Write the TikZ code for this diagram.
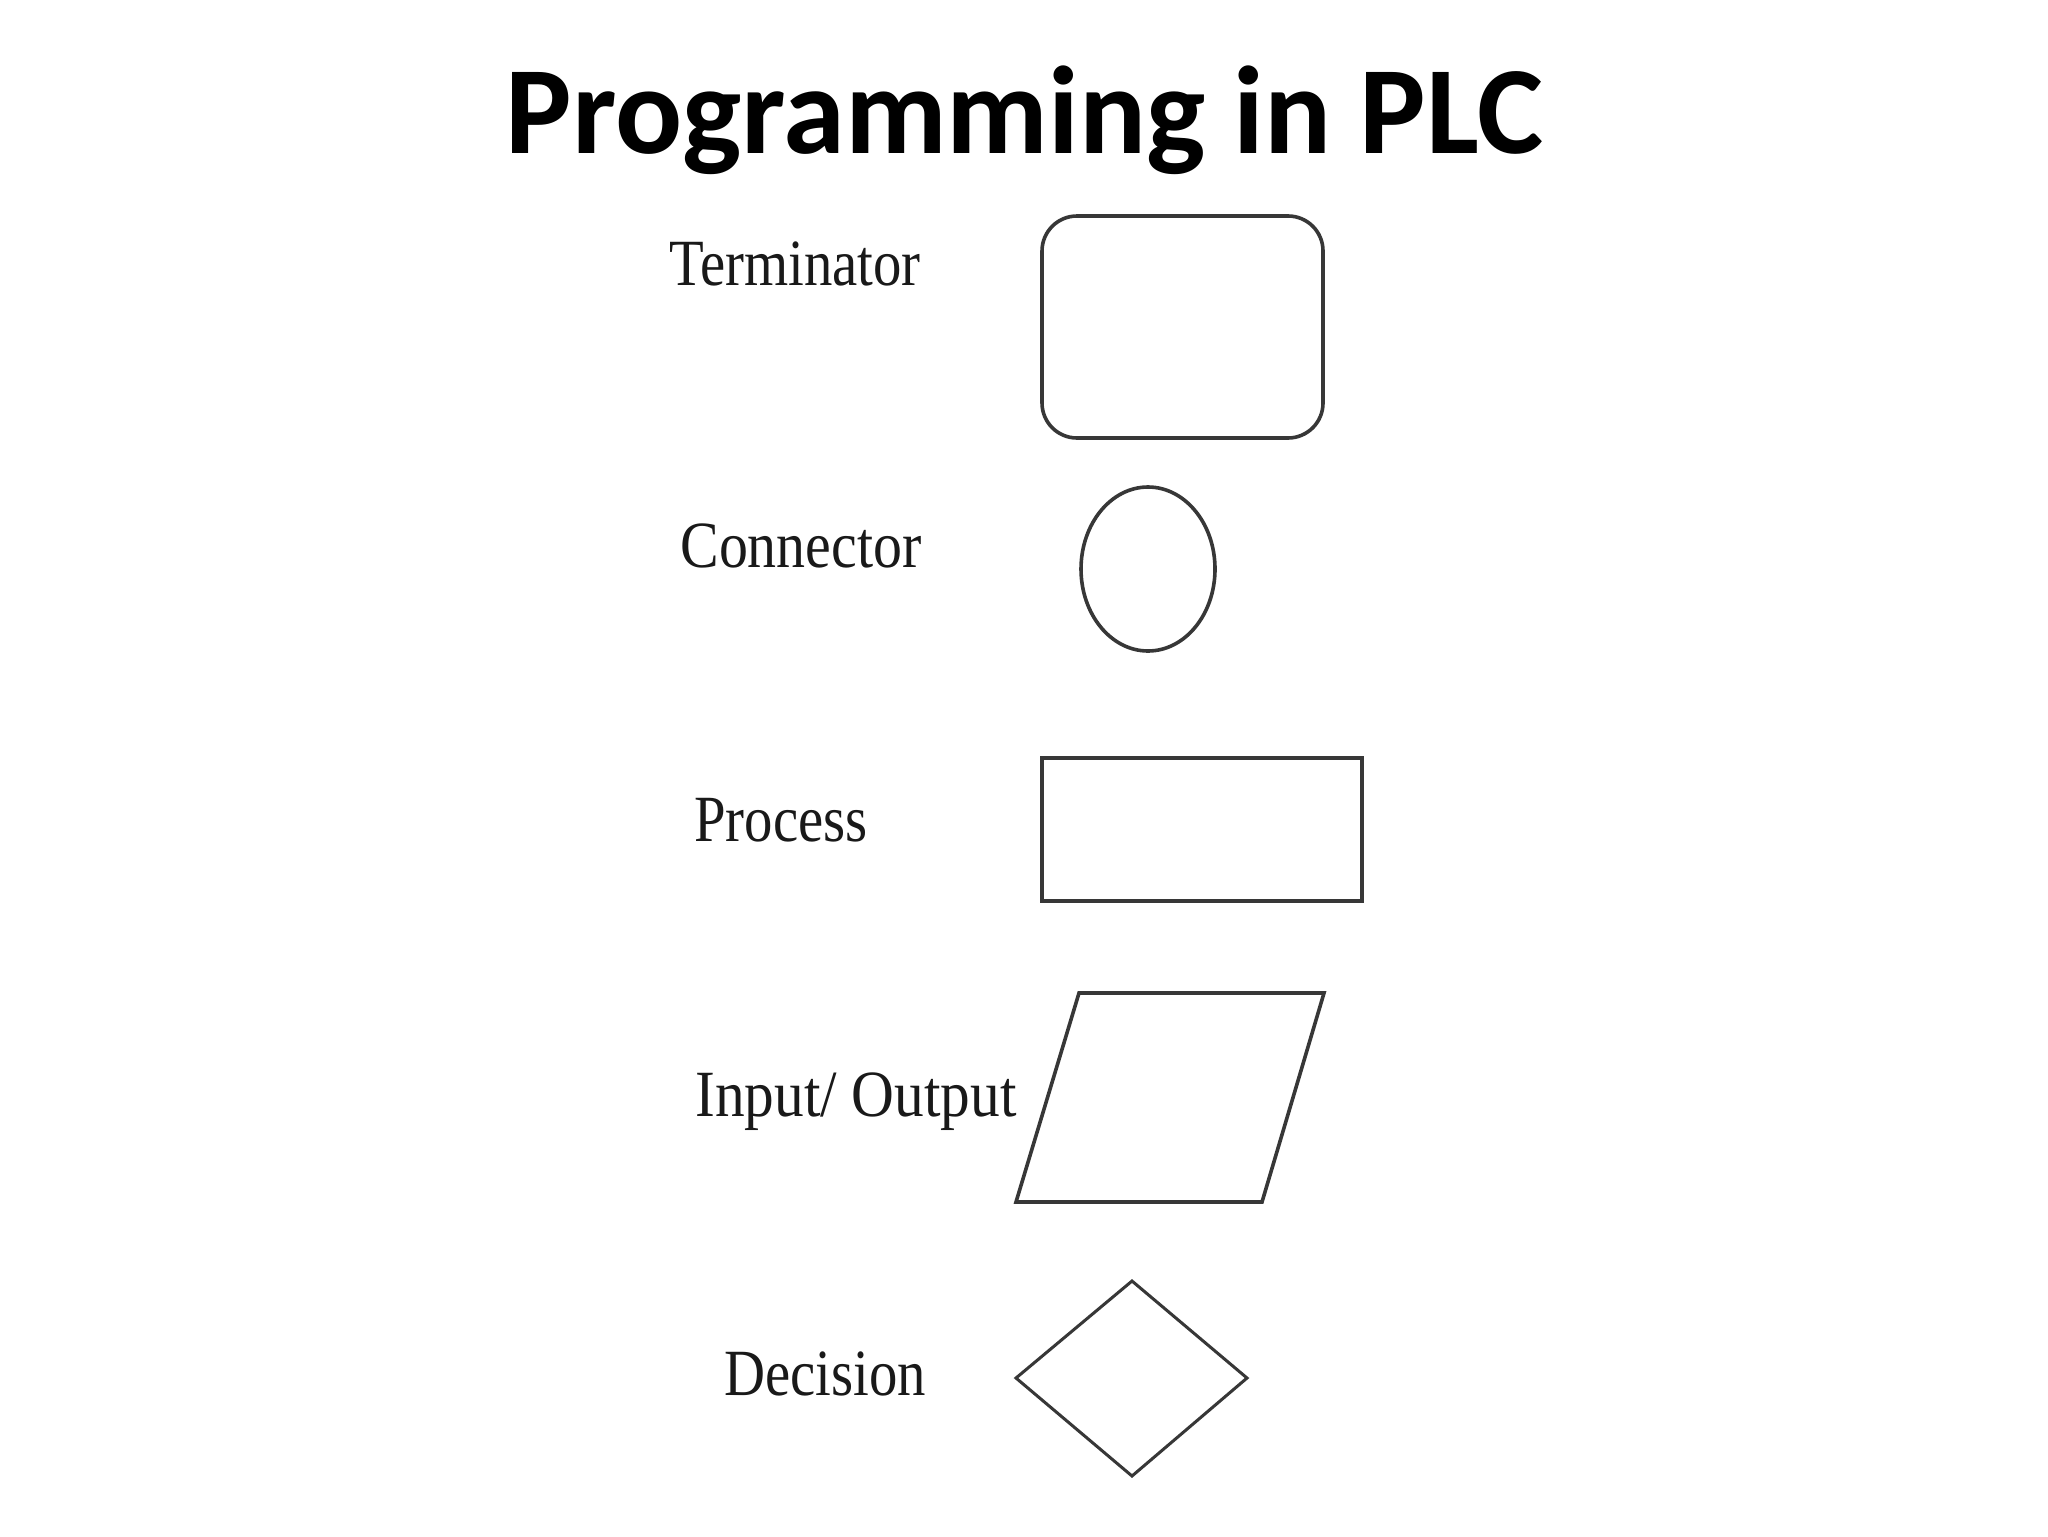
\documentclass[tikz,border=0pt]{standalone}
\usepackage{fontspec}
\setmainfont{Liberation Serif}
\newfontfamily\titlefont{Carlito}
\newfontfamily\labelfont[FakeStretch=0.86]{Liberation Serif}
\usetikzlibrary{shapes.geometric}
\definecolor{shapeline}{RGB}{55,55,55}
\definecolor{labelcol}{RGB}{25,25,25}
\tikzset{
  shapestyle/.style={draw=shapeline, line width=1.8pt, inner sep=0pt, outer sep=0pt},
  lbl/.style={anchor=base west, inner sep=0pt, text=labelcol, font=\labelfont\fontsize{33pt}{36pt}\selectfont},
}
\begin{document}
\begin{tikzpicture}[x=0.5pt,y=-0.5pt]
\useasboundingbox[fill=white] (0,0) rectangle (2048,1536);
% title
\node[anchor=base, inner sep=0pt, font=\titlefont\bfseries\fontsize{62.5pt}{70pt}\selectfont] (title) at (1025,154) {Programming in PLC};
% labels
\node[lbl] (lterm) at (669,285) {Terminator};
\node[lbl] (lconn) at (680,567) {\scalebox{1.02}[1]{Connector}};
\node[lbl] (lproc) at (694,841) {Process};
\node[lbl] (lio) at (695,1116) {\scalebox{1.045}[1]{Input/ Output}};
\node[lbl] (ldec) at (724,1395) {Decision};
% shapes
\node[shapestyle, rectangle, rounded corners=17.5pt, minimum width=140.5pt, minimum height=111pt] (term) at (1182.5,327) {};
\node[shapestyle, ellipse, minimum width=67pt, minimum height=82pt] (conn) at (1148,569) {};
\node[shapestyle, rectangle, line width=2pt, minimum width=160pt, minimum height=71.5pt] (proc) at (1202,829.5) {};
\coordinate (io1) at (1079,993);
\coordinate (io2) at (1324,993);
\coordinate (io3) at (1262,1202);
\coordinate (io4) at (1016,1202);
\draw[draw=shapeline, line width=1.8pt, line join=miter] (io1) -- (io2) -- (io3) -- (io4) -- cycle;
\coordinate (d1) at (1132,1281);
\coordinate (d2) at (1247,1378);
\coordinate (d3) at (1132,1476);
\coordinate (d4) at (1016,1378);
\draw[draw=shapeline, line width=1.5pt, line join=miter] (d1) -- (d2) -- (d3) -- (d4) -- cycle;
\end{tikzpicture}
\end{document}
